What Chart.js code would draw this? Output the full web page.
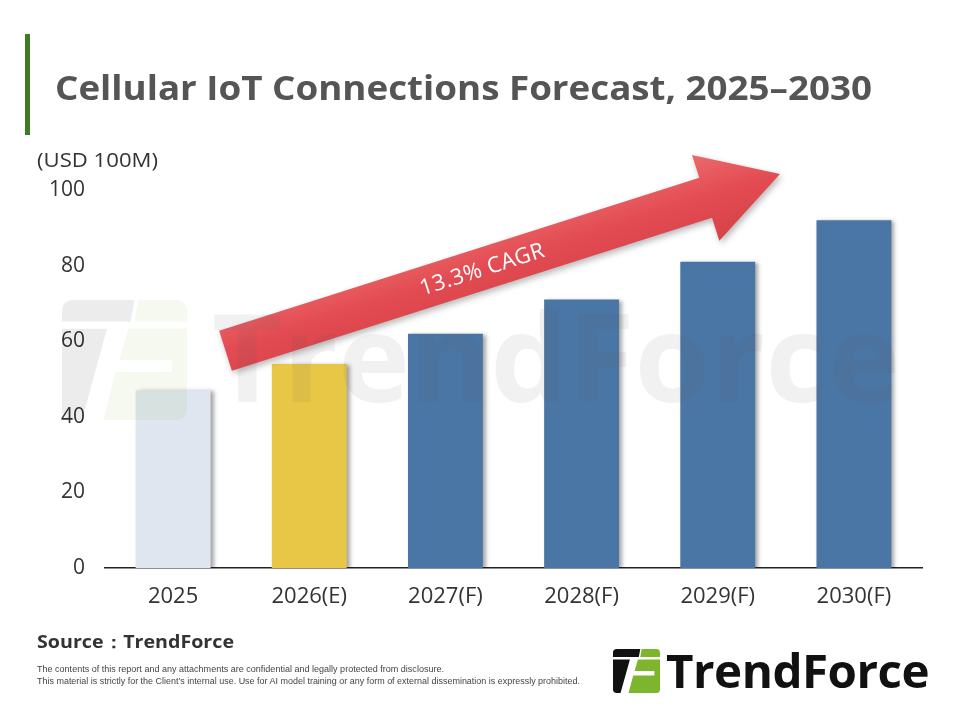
<!DOCTYPE html>
<html>
<head>
<meta charset="utf-8">
<script src="https://cdn.jsdelivr.net/npm/chart.js@4.4.1/dist/chart.umd.min.js"></script>
<style>
  html, body { margin: 0; padding: 0; background: #fff; }
  body { width: 960px; height: 720px; position: relative; overflow: hidden; font-family: "Open Sans", sans-serif; color: #333; }
  #wrap { position: absolute; left: 0; top: 0; width: 960px; height: 720px; }
  .abs { position: absolute; white-space: nowrap; transform-origin: left center; }
  #accent { left: 25px; top: 34px; width: 5px; height: 101px; background: #3E7B23; }
  #title { left: 55px; top: 64px; font-weight: 700; font-size: 34px; line-height: 46px; color: #555; }
  #unit { left: 37px; top: 146px; font-size: 20px; line-height: 28px; color: #333; }
  #source { left: 37px; top: 630px; font-size: 17px; line-height: 24px; font-weight: 700; color: #333; }
  .disc { left: 37px; font-size: 9px; line-height: 12px; color: #444; font-family: "Liberation Sans Narrow", "Liberation Sans", sans-serif; }
  #disc1 { top: 663px; }
  #disc2 { top: 675px; }
  #brand { left: 666px; top: 640px; font-size: 46px; line-height: 60px; font-weight: 700; color: #111; letter-spacing: -0.5px; }
</style>
</head>
<body>
<div id="wrap"><canvas id="chart" width="960" height="720"></canvas></div>
<div class="abs" id="accent"></div>
<div class="abs" id="title" data-w="817">Cellular IoT Connections Forecast, 2025–2030</div>
<div class="abs" id="unit" data-w="121">(USD 100M)</div>
<div class="abs" id="source" data-w="197">Source：TrendForce</div>
<div class="abs disc" id="disc1" data-w="407">The contents of this report and any attachments are confidential and legally protected from disclosure.</div>
<div class="abs disc" id="disc2" data-w="543">This material is strictly for the Client’s internal use. Use for AI model training or any form of external dissemination is expressly prohibited.</div>
<div class="abs" id="brand" data-w="263">TrendForce</div>

<script>
const categories = ['2025', '2026(E)', '2027(F)', '2028(F)', '2029(F)', '2030(F)'];
const values = [47, 54, 62, 71, 81, 92];
const barColors = ['#DFE6EF', '#E9C746', '#4A76A5', '#4A76A5', '#4A76A5', '#4A76A5'];
const yTicks = [0, 20, 40, 60, 80, 100];
const cagrLabel = '13.3% CAGR';
// arrow ends in scale units: [category index, value]
const arrowFrom = [0.385, 57.5];
const arrowTo = [4.457, 104.2];

// stretch text boxes to the widths seen in the reference
document.querySelectorAll('[data-w]').forEach(el => {
  const w = el.getBoundingClientRect().width;
  el.style.transform = `scaleX(${(+el.dataset.w / w).toFixed(4)})`;
});

function drawLogo(ctx, x, y, w, h, dark, green) {
  const poly = (pts, c) => {
    ctx.fillStyle = c;
    ctx.beginPath();
    pts.forEach(([px, py], i) => i ? ctx.lineTo(x + px * w, y + py * h) : ctx.moveTo(x + px * w, y + py * h));
    ctx.closePath();
    ctx.fill();
  };
  ctx.save();
  ctx.beginPath();
  ctx.roundRect(x, y, w, h, w * 0.08);
  ctx.clip();
  poly([[0, 0], [0.58, 0], [0.55, 0.18], [0, 0.18]], dark);
  poly([[0, 0.24], [0.36, 0.24], [0.16, 1], [0, 1]], dark);
  poly([[0.61, 0], [1, 0], [1, 0.18], [0.58, 0.18]], green);
  poly([[0.53, 0.24], [1, 0.24], [1, 1], [0.33, 1], [0.43, 0.6], [0.88, 0.6], [0.88, 0.5], [0.46, 0.5]], green);
  ctx.restore();
}

function drawArrow(chart) {
  const { ctx, scales: { x, y } } = chart;
  const sx = x.getPixelForValue(arrowFrom[0]), sy = y.getPixelForValue(arrowFrom[1]);
  const tx = x.getPixelForValue(arrowTo[0]), ty = y.getPixelForValue(arrowTo[1]);
  const len = Math.hypot(tx - sx, ty - sy);
  const ang = Math.atan2(ty - sy, tx - sx);
  const sw = 21, hw = 45, hl = 78;
  ctx.save();
  ctx.translate(sx, sy);
  ctx.rotate(ang);
  const g = ctx.createLinearGradient(0, -hw, 0, hw);
  g.addColorStop(0, '#EC6A6D');
  g.addColorStop(0.5, '#E24B51');
  g.addColorStop(1, '#D7424A');
  ctx.shadowColor = 'rgba(0,0,0,0.28)';
  ctx.shadowBlur = 6;
  ctx.shadowOffsetX = 2;
  ctx.shadowOffsetY = 3;
  ctx.fillStyle = g;
  ctx.beginPath();
  ctx.moveTo(0, -sw);
  ctx.lineTo(len - hl, -sw);
  ctx.lineTo(len - hl, -hw);
  ctx.lineTo(len, 0);
  ctx.lineTo(len - hl, hw);
  ctx.lineTo(len - hl, sw);
  ctx.lineTo(0, sw);
  ctx.closePath();
  ctx.fill();
  ctx.shadowColor = 'transparent';
  ctx.fillStyle = '#fff';
  ctx.font = '22px "Open Sans"';
  ctx.letterSpacing = '0.5px';
  ctx.textAlign = 'center';
  ctx.textBaseline = 'middle';
  ctx.fillText(cagrLabel, len * 0.463, 1);
  ctx.restore();
}

function drawWatermark(chart) {
  const ctx = chart.ctx;
  ctx.save();
  drawLogo(ctx, 62, 300, 125, 120, 'rgba(0,0,0,0.075)', 'rgba(125,181,46,0.08)');
  ctx.fillStyle = 'rgba(90,90,90,0.085)';
  ctx.font = 'bold 110px "Open Sans"';
  const w = ctx.measureText('TrendForce').width;
  ctx.font = `bold ${(110 * 688 / w).toFixed(1)}px "Open Sans"`;
  ctx.textBaseline = 'alphabetic';
  ctx.fillText('TrendForce', 212, 402);
  ctx.restore();
}

const decor = {
  id: 'decor',
  beforeDatasetsDraw(chart) {
    const ctx = chart.ctx;
    ctx.save();
    ctx.shadowColor = 'rgba(0,0,0,0.35)';
    ctx.shadowBlur = 4;
    ctx.shadowOffsetX = 3;
    ctx.shadowOffsetY = 1;
  },
  afterDatasetsDraw(chart) {
    chart.ctx.restore();
    drawArrow(chart);
    drawWatermark(chart);
  },
  afterDraw(chart) {
    drawLogo(chart.ctx, 613, 649, 47, 44, '#111111', '#7DB52E');
  }
};

new Chart(document.getElementById('chart'), {
  type: 'bar',
  data: {
    labels: categories,
    datasets: [{
      data: values,
      backgroundColor: barColors,
      borderWidth: 0,
      categoryPercentage: 1,
      barPercentage: 0.55
    }]
  },
  options: {
    responsive: false,
    animation: false,
    layout: { padding: { top: 190, right: 38, bottom: 112, left: 0 } },
    plugins: { legend: { display: false }, tooltip: { enabled: false } },
    scales: {
      x: {
        grid: { display: false, drawTicks: false },
        border: { display: true, color: '#222', width: 1.5 },
        ticks: { color: '#333', font: { family: 'Open Sans', size: 22 }, padding: 16 },
        afterFit: s => { s.height = 40; }
      },
      y: {
        min: 0,
        max: 100,
        grid: { display: false, drawTicks: false },
        border: { display: false },
        ticks: { color: '#333', font: { family: 'Open Sans', size: 21 }, padding: 20 },
        afterBuildTicks: s => { s.ticks = yTicks.map(v => ({ value: v })); },
        afterFit: s => { s.width = 105; }
      }
    }
  },
  plugins: [decor]
});
</script>
</body>
</html>
